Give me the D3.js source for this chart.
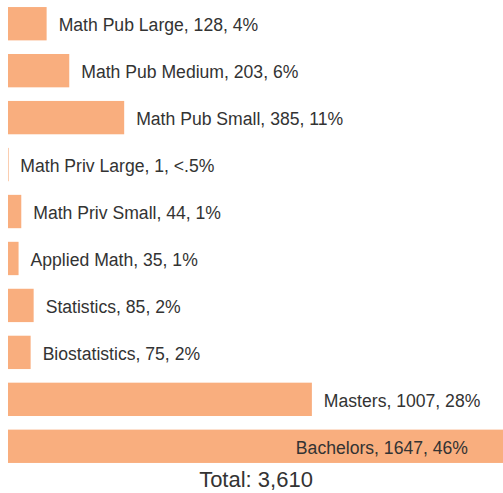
<!DOCTYPE html>
<html>
<head>
<meta charset="utf-8">
<script src="https://cdn.jsdelivr.net/npm/d3@7"></script>
<style>
  body { margin: 0; background: #fff; }
  text { font-family: "Liberation Sans", Arial, sans-serif; fill: #333; }
</style>
</head>
<body>
<div id="chart"></div>
<script>
// data
let categories = ["Math Pub Large", "Math Pub Medium", "Math Pub Small", "Math Priv Large",
                  "Math Priv Small", "Applied Math", "Statistics", "Biostatistics", "Masters", "Bachelors"];
let counts = [128, 203, 385, 1, 44, 35, 85, 75, 1007, 1647];
let shares = ["4%", "6%", "11%", "<.5%", "1%", "1%", "2%", "2%", "28%", "46%"];
let total = "3,610";

let width = 503,
    height = 493;

let svg = d3.select("#chart").append("svg")
    .attr("width", width)
    .attr("height", height);

let x = d3.scaleLinear()
    .domain([0, d3.max(counts)])
    .range([8, 505]);

let y = d3.scaleBand()
    .domain(categories)
    .range([0, 470])
    .paddingInner(0.29)
    .paddingOuter(0.15);

let rows = categories.map((c, i) => ({name: c, n: counts[i], pct: shares[i]}));

svg.selectAll("rect")
    .data(rows)
    .enter()
    .append("rect")
    .attr("x", x(0))
    .attr("y", d => y(d.name))
    .attr("width", d => Math.max(x(d.n) - x(0), 0.6))
    .attr("height", y.bandwidth())
    .attr("fill", "#f9ae7e");

//labels: outside the bar, except the longest which sits inside
let maxN = d3.max(counts);
svg.selectAll(".lbl")
    .data(rows)
    .enter()
    .append("text")
    .attr("class", "lbl")
    .attr("x", d => d.n == maxN ? 468 : x(d.n) + 12)
    .attr("y", d => y(d.name) + y.bandwidth() / 2)
    .attr("dy", "0.42em")
    .attr("text-anchor", d => d.n == maxN ? "end" : "start")
    .style("font-size", "17.6px")
    .text(d => d.name + ", " + d.n + ", " + d.pct);

svg.append("text")
    .attr("x", 256)
    .attr("y", 487)
    .attr("text-anchor", "middle")
    .style("font-size", "22px")
    .text("Total: " + total);
</script>
</body>
</html>
